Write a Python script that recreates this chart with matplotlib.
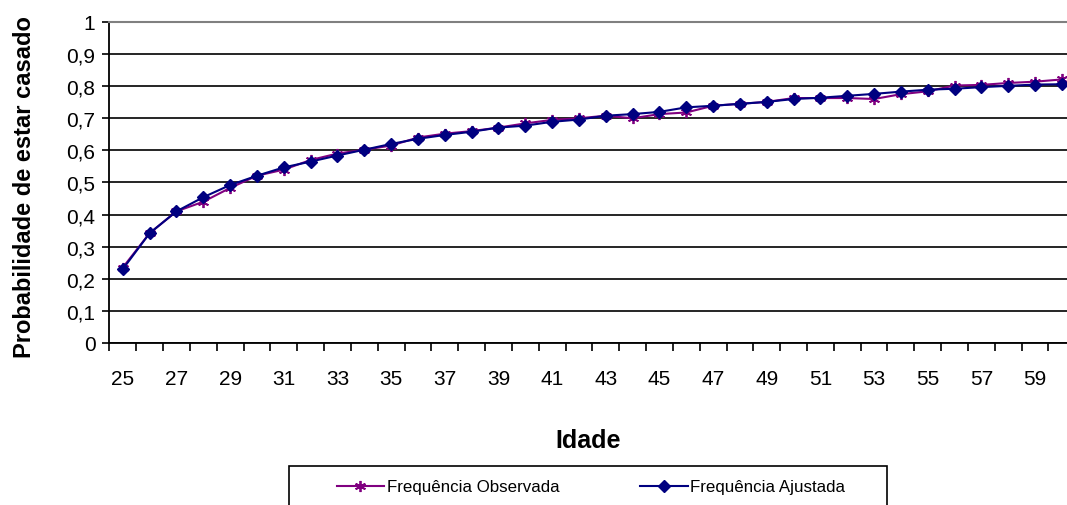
import matplotlib
matplotlib.use("Agg")
import matplotlib.pyplot as plt
from matplotlib.patches import Rectangle

plt.rcParams['font.family'] = ['Liberation Sans', 'DejaVu Sans']

# idades e probabilidades
idades = list(range(25, 61))
freq_observada = [0.235, 0.342, 0.410, 0.440, 0.483, 0.521, 0.540, 0.570, 0.590, 0.602,
                  0.615, 0.640, 0.652, 0.660, 0.671, 0.684, 0.695, 0.700, 0.708, 0.700,
                  0.713, 0.718, 0.739, 0.745, 0.751, 0.763, 0.763, 0.763, 0.760, 0.775,
                  0.784, 0.802, 0.804, 0.810, 0.814, 0.821]
freq_ajustada = [0.230, 0.342, 0.410, 0.454, 0.492, 0.521, 0.547, 0.565, 0.584, 0.602,
                 0.620, 0.636, 0.648, 0.658, 0.671, 0.677, 0.689, 0.696, 0.708, 0.713,
                 0.720, 0.734, 0.739, 0.745, 0.751, 0.760, 0.764, 0.770, 0.776, 0.783,
                 0.789, 0.792, 0.797, 0.801, 0.805, 0.806]
yticks = [0, 0.1, 0.2, 0.3, 0.4, 0.5, 0.6, 0.7, 0.8, 0.9, 1.0]
ytick_labels = ['0', '0,1', '0,2', '0,3', '0,4', '0,5', '0,6', '0,7', '0,8', '0,9', '1']
xtick_labels = [str(a) for a in range(25, 61, 2)]

fig = plt.figure(figsize=(10.67, 5.06), dpi=100)
ax = fig.add_axes([0.1025, 0.3202, 0.9053, 0.6344])

ax.plot(idades, freq_observada, color='#800080', lw=1.5, marker=(6, 2, 0),
        ms=8, mew=1.3, label='Frequência Observada', zorder=3)
ax.plot(idades, freq_ajustada, color='#000080', lw=1.5, marker='D',
        ms=6.5, label='Frequência Ajustada', zorder=4)

ax.set_xlim(24.5, 60.5)
ax.set_ylim(0, 1)
ax.set_yticks(yticks)
ax.set_yticklabels(ytick_labels)
ax.yaxis.grid(True, color='black', lw=1.2)
ax.set_axisbelow(True)
ax.yaxis.get_gridlines()[-1].set_visible(False)

# ticks entre as categorias, rotulos em categorias alternadas
ax.set_xticks([x + 0.5 for x in range(24, 61)])
ax.set_xticklabels([])
ax.set_xticks(list(range(25, 61, 2)), minor=True)
ax.set_xticklabels(xtick_labels, minor=True)
ax.tick_params(axis='x', which='major', direction='out', length=6, width=1.2, color='black')
ax.tick_params(axis='x', which='minor', length=0, pad=19, labelsize=15)
ax.tick_params(axis='y', direction='out', length=5, width=1.2, pad=5, labelsize=15)

for s in ['left', 'bottom']:
    ax.spines[s].set_color('black')
    ax.spines[s].set_linewidth(1.3)
ax.spines['top'].set_color('#808080')
ax.spines['top'].set_linewidth(1.5)
ax.spines['right'].set_visible(False)

fig.text(0.0234, 0.631, 'Probabilidade de estar casado', rotation=90, ha='center',
         va='center', fontsize=17, fontweight='bold')
fig.text(0.551, 0.114, 'Idade', ha='center', va='baseline', fontsize=18, fontweight='bold')

fig.patches.append(Rectangle((289 / 1067, -0.05), 598 / 1067, 0.05 + 39 / 506,
                             transform=fig.transFigure, fill=False, ec='black', lw=1.2))
fig.legend(loc='center', bbox_to_anchor=(591 / 1067, 18 / 506), ncol=2, frameon=False,
           fontsize=12.2, handlelength=2.8, handletextpad=0.15, columnspacing=4.8)

fig.savefig('out.png', dpi=100)
